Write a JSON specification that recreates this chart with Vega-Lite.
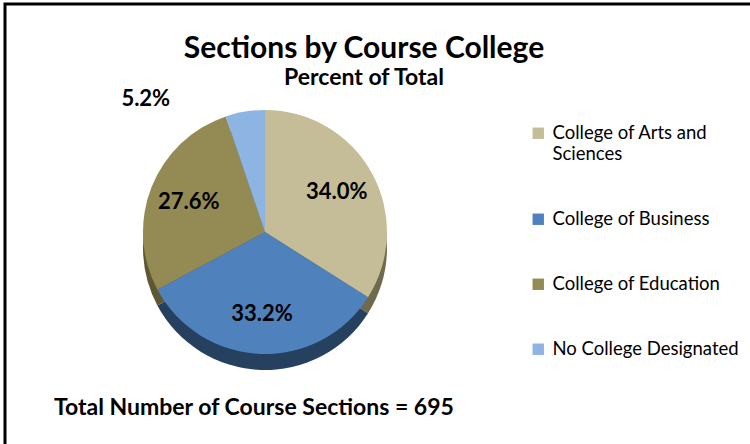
{
  "$schema": "https://vega.github.io/schema/vega-lite/v6.json",
  "width": 800,
  "height": 500,
  "autosize": {"type": "none"},
  "padding": {"left": 5, "top": 4, "right": 0, "bottom": 0},
  "background": "white",
  "config": {
    "view": {"stroke": "black", "strokeWidth": 3},
    "font": "Lato"
  },
  "resolve": {"scale": {"color": "independent"}, "legend": {"color": "independent"}},
  "title": {
    "text": "Sections by Course College",
    "subtitle": "Percent of Total",
    "font": "Lato",
    "subtitleFont": "Lato",
    "fontSize": 30,
    "fontWeight": "bold",
    "subtitleFontSize": 23,
    "subtitleFontWeight": "bold",
    "color": "black",
    "subtitleColor": "black",
    "anchor": "middle",
    "frame": "group",
    "offset": -86,
    "dx": -41,
    "subtitlePadding": 3
  },
  "data": {
    "values": [
      {"college": "College of Arts and Sciences", "pct": 0.340, "order": 1},
      {"college": "College of Business", "pct": 0.332, "order": 2},
      {"college": "College of Education", "pct": 0.276, "order": 3},
      {"college": "No College Designated", "pct": 0.052, "order": 4}
    ]
  },
  "layer": [
    {
      "mark": {"type": "arc", "outerRadius": 122},
      "encoding": {
        "theta": {"field": "pct", "type": "quantitative", "stack": true},
        "order": {"field": "order", "type": "quantitative"},
        "x": {"value": 260},
        "y": {"value": 244},
        "color": {
          "field": "college",
          "type": "nominal",
          "scale": {
            "domain": ["College of Arts and Sciences", "College of Business", "College of Education", "No College Designated"],
            "range": ["#6f6a4c", "#26405f", "#5f5733", "#5b7fa8"]
          },
          "legend": null
        }
      }
    },
    {
      "mark": {"type": "arc", "outerRadius": 122},
      "encoding": {
        "theta": {"field": "pct", "type": "quantitative", "stack": true},
        "order": {"field": "order", "type": "quantitative"},
        "x": {"value": 260},
        "y": {"value": 228},
        "color": {
          "field": "college",
          "type": "nominal",
          "scale": {
            "domain": ["College of Arts and Sciences", "College of Business", "College of Education", "No College Designated"],
            "range": ["#C4BD97", "#4F81BD", "#948A54", "#8DB4E2"]
          },
          "legend": {
            "title": null,
            "orient": "none",
            "legendX": 524,
            "legendY": 120,
            "symbolType": "square",
            "symbolSize": 130,
            "symbolStrokeWidth": 0,
            "labelFont": "Lato",
            "labelFontSize": 18.5,
            "labelColor": "black",
            "labelLimit": 300,
            "rowPadding": 46,
            "labelOffset": 5,
            "labelExpr": "datum.label == 'College of Arts and Sciences' ? ['College of Arts and', 'Sciences'] : datum.label"
          }
        }
      }
    },
    {
      "transform": [{"filter": "datum.order < 4"}],
      "mark": {"type": "text", "radius": 82, "font": "Lato", "fontSize": 22, "fontWeight": "bold", "color": "black"},
      "encoding": {
        "theta": {"field": "pct", "type": "quantitative", "stack": true},
        "order": {"field": "order", "type": "quantitative"},
        "x": {"value": 260},
        "y": {"value": 228},
        "text": {"field": "pct", "type": "quantitative", "format": ".1%"}
      }
    },
    {
      "transform": [{"filter": "datum.order == 4"}],
      "mark": {"type": "text", "radius": 140, "dx": -142, "dy": 5, "font": "Lato", "fontSize": 22, "fontWeight": "bold", "color": "black"},
      "encoding": {
        "theta": {"field": "pct", "type": "quantitative", "stack": true},
        "order": {"field": "order", "type": "quantitative"},
        "x": {"value": 260},
        "y": {"value": 228},
        "text": {"field": "pct", "type": "quantitative", "format": ".1%"}
      }
    },
    {
      "data": {"values": [{"note": "Total Number of Course Sections = 695"}]},
      "mark": {"type": "text", "align": "left", "baseline": "alphabetic", "font": "Lato", "fontSize": 23, "fontWeight": "bold", "color": "black"},
      "encoding": {
        "x": {"value": 49},
        "y": {"value": 411},
        "text": {"field": "note", "type": "nominal"}
      }
    }
  ]
}
